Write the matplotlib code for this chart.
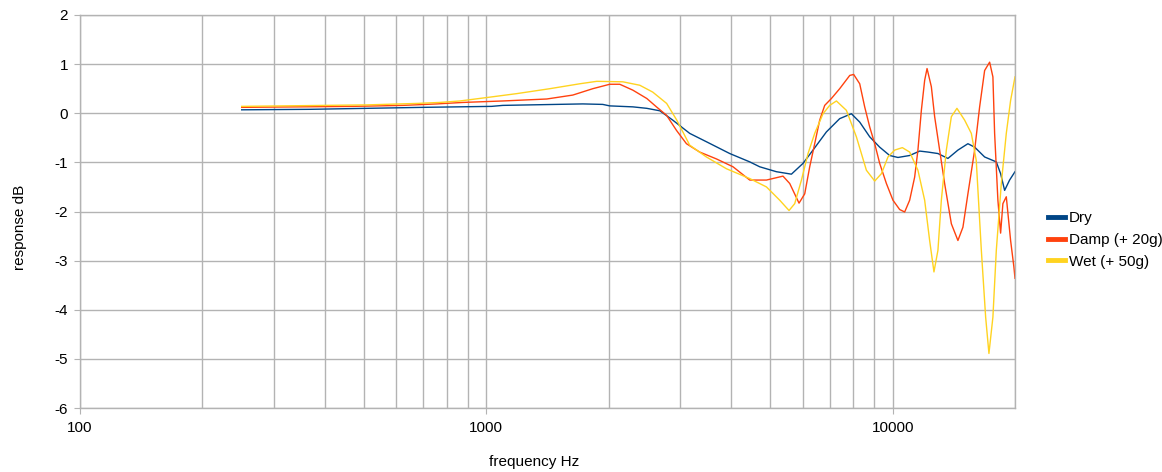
import matplotlib
matplotlib.use('Agg')
import matplotlib.pyplot as plt
from matplotlib.ticker import FixedLocator, FixedFormatter, NullFormatter

plt.rcParams['font.family'] = ['Liberation Sans', 'DejaVu Sans']
plt.rcParams['axes.unicode_minus'] = False

# values (frequency in Hz, response in dB)
dry_f = [250, 368, 698, 1030, 1098, 1727, 1934, 2012, 2294, 2483, 2673, 2876, 3166, 3480, 3972,
         4449, 4708, 5174, 5634, 6017, 6367, 6869, 7406, 7914, 8296, 8780, 9290, 9831, 10304, 11010,
         11651, 12212, 12923, 13676, 14473, 15316, 15912, 16838, 17990, 18434, 18858, 19396, 20000]
dry_db = [0.07, 0.08, 0.12, 0.14, 0.16, 0.19, 0.18, 0.15, 0.13, 0.1, 0.05, -0.14, -0.41, -0.58, -0.82,
          -0.99, -1.09, -1.19, -1.24, -1.02, -0.75, -0.38, -0.11, -0.01, -0.18, -0.48, -0.69, -0.86, -0.90, -0.86,
          -0.77, -0.79, -0.82, -0.92, -0.75, -0.62, -0.69, -0.89, -0.99, -1.23, -1.57, -1.36, -1.19]

damp_f = [250, 469, 623, 755, 875, 1098, 1408, 1632, 1828, 2012, 2130, 2294, 2483, 2622, 2776,
          2938, 3108, 3350, 3684, 4047, 4449, 4891, 5371, 5580, 5882, 6075, 6249, 6428, 6613, 6803,
          7066, 7406, 7841, 8017, 8296, 8533, 8780, 9032, 9290, 9650, 10016, 10404, 10703, 11010, 11326,
          11538, 11765, 11987, 12150, 12450, 12685, 13049, 13423, 13944, 14473, 14889, 15316, 15912, 16368,
          16838, 17322, 17646, 17819, 18153, 18434, 18674, 19037, 19508, 19876, 20000]
damp_db = [0.12, 0.14, 0.16, 0.19, 0.22, 0.25, 0.29, 0.37, 0.5, 0.59, 0.59, 0.47, 0.3, 0.13, -0.04,
           -0.35, -0.62, -0.79, -0.93, -1.09, -1.36, -1.36, -1.28, -1.43, -1.83, -1.64, -1.09, -0.62, -0.14, 0.16,
           0.30, 0.50, 0.77, 0.79, 0.6, 0.13, -0.28, -0.62, -1.02, -1.43, -1.77, -1.96, -2.01, -1.77, -1.30,
           -0.75, 0.06, 0.67, 0.91, 0.54, -0.07, -0.75, -1.43, -2.25, -2.59, -2.32, -1.64, -0.75, 0.13,
           0.87, 1.04, 0.74, -0.41, -1.77, -2.44, -1.84, -1.70, -2.59, -3.13, -3.36]

wet_f = [250, 508, 675, 768, 861, 1003, 1189, 1433, 1698, 1870, 2167, 2386, 2568, 2778, 2942,
         3166, 3480, 3899, 4449, 4891, 5272, 5558, 5740, 5963, 6190, 6428, 6738, 6998, 7269, 7692,
         8141, 8616, 9032, 9381, 9737, 10113, 10563, 11010, 11538, 11987, 12330, 12635, 12923, 13175, 13553,
         13944, 14393, 15033, 15615, 16057, 16527, 16935, 17254, 17646, 17990, 18507, 19037, 19508, 20000]
wet_db = [0.14, 0.17, 0.2, 0.22, 0.25, 0.32, 0.4, 0.5, 0.6, 0.65, 0.64, 0.57, 0.43, 0.2, -0.14,
          -0.65, -0.89, -1.13, -1.33, -1.50, -1.77, -1.98, -1.84, -1.36, -0.82, -0.41, -0.01, 0.16, 0.25, 0.06,
          -0.48, -1.16, -1.38, -1.23, -0.89, -0.75, -0.70, -0.79, -1.16, -1.77, -2.59, -3.23, -2.79, -1.77, -0.75,
          -0.07, 0.1, -0.14, -0.41, -0.96, -2.79, -4.15, -4.89, -4.15, -2.79, -1.43, -0.41, 0.26, 0.74]

labels = ['Dry', 'Damp (+ 20g)', 'Wet (+ 50g)']
colors = ['#004586', '#ff420e', '#ffd320']

x_major = [100, 1000, 10000]
x_minor = [200, 300, 400, 500, 600, 700, 800, 900,
           2000, 3000, 4000, 5000, 6000, 7000, 8000, 9000, 20000]
y_ticks = [-6, -5, -4, -3, -2, -1, 0, 1, 2]

grid_col = '#b3b3b3'

fig = plt.figure(figsize=(11.62, 4.72), dpi=100)
ax = fig.add_axes([80 / 1162, 1 - 408 / 472, 935 / 1162, 393 / 472])

series = [(dry_f, dry_db), (damp_f, damp_db), (wet_f, wet_db)]
for (f, db), lab, col in zip(series, labels, colors):
    ax.plot(f, db, color=col, linewidth=1.0, label=lab)

ax.set_xscale('log')
ax.set_xlim(100, 20000)
ax.set_ylim(-6, 2)
ax.xaxis.set_major_locator(FixedLocator(x_major))
ax.xaxis.set_major_formatter(FixedFormatter([str(v) for v in x_major]))
ax.xaxis.set_minor_locator(FixedLocator(x_minor))
ax.xaxis.set_minor_formatter(NullFormatter())
ax.set_yticks(y_ticks)
ax.set_yticklabels([str(v) for v in y_ticks])

ax.grid(True, which='both', axis='x', color=grid_col, linewidth=1.0)
ax.grid(True, which='major', axis='y', color=grid_col, linewidth=1.0)
ax.set_axisbelow(True)
for s in ax.spines.values():
    s.set_color(grid_col)
    s.set_linewidth(1.0)
ax.tick_params(which='major', colors=grid_col, labelcolor='black', length=4.5, labelsize=11)
ax.tick_params(which='minor', length=0)
ax.tick_params(axis='x', pad=5)
ax.tick_params(axis='y', pad=4)

fig.text(20 / 1162, 1 - 227 / 472, 'response dB', rotation=90, ha='center', va='center', fontsize=11)
fig.text(534 / 1162, 1 - 462 / 472, 'frequency Hz', ha='center', va='center', fontsize=11)

leg = ax.legend(loc='center left', bbox_to_anchor=(1040 / 1162, 1 - 240 / 472),
                bbox_transform=fig.transFigure, frameon=False, fontsize=11,
                handlelength=1.15, handletextpad=0.25, labelspacing=0.5, borderpad=0)
for h in leg.get_lines():
    h.set_linewidth(3.5)

fig.savefig('out.png', dpi=100)
